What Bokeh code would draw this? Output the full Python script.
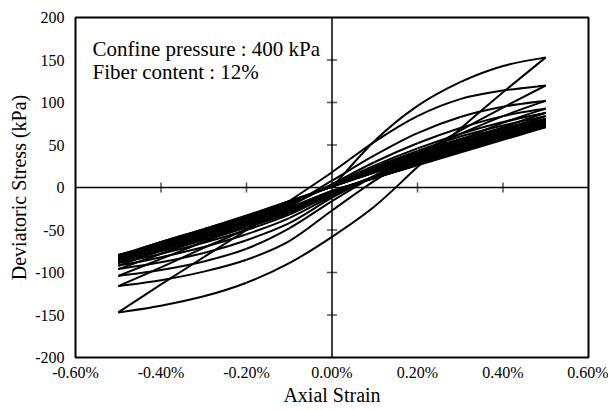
import math
from bokeh.plotting import figure
from bokeh.models import Range1d, FixedTicker, Label, ColumnDataSource, Span
from bokeh.embed import file_html
from bokeh.resources import INLINE

# ---------------- data ----------------
# strain in %, stress in kPa
strain_grid = [-0.5, -0.4, -0.3, -0.2, -0.1, 0.0, 0.1, 0.2, 0.3, 0.4, 0.5]

backbone_strain = [0.0, 0.1, 0.2, 0.3, 0.4, 0.5]
backbone_stress = [0, 55, 96, 124, 143, 153]

# unloading branches (from +0.5% down to -0.5%), listed at strain_grid
unloading_stress = [
    [-147, -139, -128, -112, -89, -58, -22, 24, 69, 112, 153],
    [-116, -109, -99, -85, -63, -27, 8, 38, 67, 94, 120],
    [-104, -97, -87, -72, -48, -16, 14, 40, 63, 84, 102],
    [-96, -88, -77, -62, -42, -12, 14, 36, 56, 76, 93],
    [-92, -82, -70, -55, -36, -10, 13, 33, 52, 71, 88],
    [-89, -78, -65, -50, -32, -8, 13, 32, 50, 68, 84],
    [-87, -75, -62, -47, -30, -7, 13, 31, 48, 65, 81],
    [-85, -73, -60, -45, -28, -6, 13, 30, 46, 63, 79],
    [-84, -72, -58, -44, -27, -6, 12, 29, 45, 61, 77],
    [-83, -71, -57, -43, -26, -5, 12, 28, 44, 60, 75],
    [-82, -70, -56, -42, -25, -5, 12, 28, 43, 59, 74],
    [-81, -69, -55, -41, -25, -5, 11, 27, 42, 58, 73],
    [-80, -68, -55, -41, -24, -4, 11, 27, 42, 57, 72],
    [-79, -67, -54, -40, -24, -4, 11, 26, 41, 56, 71],
]

# reloading branches (from -0.5% up to +0.5%), listed at strain_grid
loading_stress = [
    [-147, -114, -82, -50, -16, 18, 54, 84, 104, 114, 120],
    [-116, -94, -71, -49, -22, 8, 38, 64, 83, 95, 102],
    [-104, -84, -64, -44, -22, 4, 30, 52, 70, 84, 93],
    [-96, -78, -60, -41, -20, 3, 26, 46, 63, 77, 88],
    [-92, -74, -57, -39, -19, 2, 24, 43, 60, 73, 84],
    [-89, -71, -55, -38, -18, 2, 22, 41, 57, 70, 81],
    [-87, -70, -54, -37, -18, 2, 21, 39, 55, 68, 79],
    [-85, -68, -52, -36, -17, 1, 20, 38, 53, 66, 77],
    [-84, -67, -51, -35, -17, 1, 19, 37, 52, 64, 75],
    [-83, -66, -51, -35, -17, 1, 19, 36, 51, 63, 74],
    [-82, -65, -50, -34, -16, 1, 18, 35, 50, 62, 73],
    [-81, -64, -49, -34, -16, 1, 18, 35, 49, 61, 72],
    [-80, -64, -49, -33, -16, 1, 18, 34, 49, 60, 71],
]

x_ticks = [-0.6, -0.4, -0.2, 0.0, 0.2, 0.4, 0.6]
x_tick_labels = ["-0.60%", "-0.40%", "-0.20%", "0.00%", "0.20%", "0.40%", "0.60%"]
y_ticks = [-200, -150, -100, -50, 0, 50, 100, 150, 200]
y_tick_labels = ["-200", "-150", "-100", "-50", "0", "50", "100", "150", "200"]

# tick marks drawn on the axes that cross at zero
zero_axis_x_marks = [-0.4, -0.2, 0.2, 0.4]
zero_axis_y_marks = [-150, -100, -50, 50, 100, 150]

annotation_lines = ["Confine pressure : 400 kPa", "Fiber content : 12%"]

# ---------------- smoothed curves (Excel-like smoothing) ----------------
def smooth_segments(xs, ys):
    n = len(xs)
    out = {"x0": [], "y0": [], "x1": [], "y1": [], "cx0": [], "cy0": [], "cx1": [], "cy1": []}
    for i in range(n - 1):
        a = i - 1 if i > 0 else i
        b = i + 2 if i + 2 < n else i + 1
        out["x0"].append(xs[i]); out["y0"].append(ys[i])
        out["x1"].append(xs[i + 1]); out["y1"].append(ys[i + 1])
        out["cx0"].append(xs[i] + (xs[i + 1] - xs[a]) / 6.0)
        out["cy0"].append(ys[i] + (ys[i + 1] - ys[a]) / 6.0)
        out["cx1"].append(xs[i + 1] - (xs[b] - xs[i]) / 6.0)
        out["cy1"].append(ys[i + 1] - (ys[b] - ys[i]) / 6.0)
    return out

segs = {"x0": [], "y0": [], "x1": [], "y1": [], "cx0": [], "cy0": [], "cx1": [], "cy1": []}
branches = [(backbone_strain, backbone_stress)]
for k in range(len(unloading_stress)):
    branches.append((strain_grid, unloading_stress[k]))
    if k < len(loading_stress):
        branches.append((strain_grid, loading_stress[k]))
for xs, ys in branches:
    s = smooth_segments(xs, ys)
    for key in segs:
        segs[key].extend(s[key])
src = ColumnDataSource(segs)

FONT = "Liberation Serif"

p = figure(width=608, height=410, x_range=Range1d(-0.6, 0.6), y_range=Range1d(-200, 200),
           output_backend="svg", toolbar_location=None,
           min_border_left=75, min_border_right=20, min_border_top=17, min_border_bottom=53)
p.background_fill_color = "white"
p.border_fill_color = "white"
p.grid.visible = False
p.outline_line_color = "black"
p.outline_line_width = 2
p.outline_line_alpha = 1.0

# main axes: labels only
p.xaxis.ticker = FixedTicker(ticks=x_ticks)
p.xaxis.major_label_overrides = dict(zip(x_ticks, x_tick_labels))
p.yaxis.ticker = FixedTicker(ticks=y_ticks)
p.yaxis.major_label_overrides = dict(zip(y_ticks, y_tick_labels))
for ax in (p.xaxis[0], p.yaxis[0]):
    ax.axis_line_color = None
    ax.major_tick_line_color = None
    ax.minor_tick_line_color = None
    ax.major_tick_in = 0
    ax.major_tick_out = 0
    ax.major_label_text_font = FONT
    ax.major_label_text_font_size = "16px"
    ax.major_label_text_color = "black"
    ax.axis_label_text_font = FONT
    ax.axis_label_text_font_size = "20px"
    ax.axis_label_text_font_style = "normal"
    ax.axis_label_text_color = "black"
p.xaxis.axis_label = "Axial Strain"
p.yaxis.axis_label = "Deviatoric Stress (kPa)"
p.xaxis.major_label_standoff = 6
p.xaxis.axis_label_standoff = 0
p.yaxis.major_label_standoff = 11
p.yaxis.axis_label_standoff = 2

# axes through zero
p.add_layout(Span(location=0, dimension="width", line_color="black", line_width=1.5))
p.add_layout(Span(location=0, dimension="height", line_color="black", line_width=1.5))
p.scatter(x=zero_axis_x_marks, y=[0] * len(zero_axis_x_marks), marker="dash", size=10,
          angle=math.pi / 2, line_color="#555555", line_width=1.5)
p.scatter(x=[0] * len(zero_axis_y_marks), y=zero_axis_y_marks, marker="dash", size=10,
          line_color="#555555", line_width=1.5)

p.bezier(x0="x0", y0="y0", x1="x1", y1="y1", cx0="cx0", cy0="cy0", cx1="cx1", cy1="cy1",
         source=src, line_color="black", line_width=2)

p.add_layout(Label(x=-0.560, y=163.5, text=annotation_lines[0], text_font=FONT,
                   text_font_size="21px", text_baseline="alphabetic", text_color="black"))
p.add_layout(Label(x=-0.560, y=135.3, text=annotation_lines[1], text_font=FONT,
                   text_font_size="21px", text_baseline="alphabetic", text_color="black"))

open("out.html", "w").write(file_html(p, INLINE))
